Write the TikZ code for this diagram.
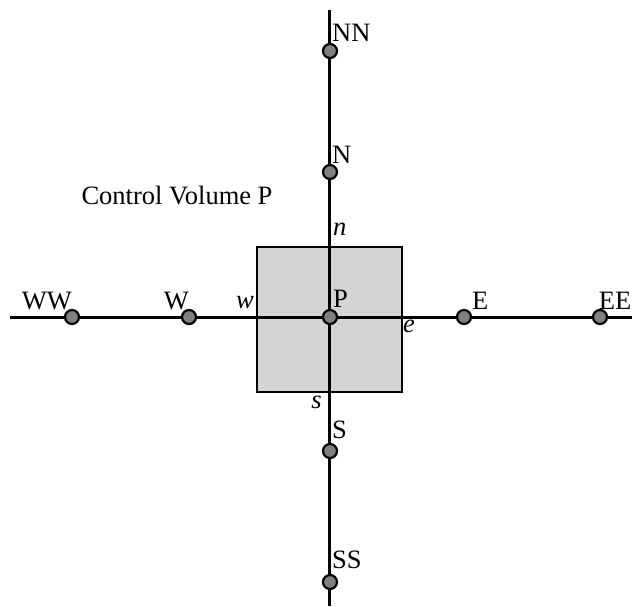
\documentclass[tikz,border=0pt]{standalone}
\usepackage{fontspec}
\setmainfont{Liberation Serif}
\usepackage{tikz}

\begin{document}
\begin{tikzpicture}[x=1pt, y=1pt,
  gridpt/.style={circle, draw, fill=black!50, line width=2.2pt, minimum size=14pt, inner sep=0pt},
  lbl/.style={font=\fontsize{26.5}{31}\selectfont, inner sep=0pt}]
  \useasboundingbox (-330,-289) rectangle (302,317);

  % control volume around P
  \draw[line width=2.8pt, fill=black!17] (-73,-75) rectangle (72,70);
  \coordinate (cvtop) at (0,70);

  % grid lines
  \coordinate (wend) at (-320,0);
  \coordinate (eend) at (302,0);
  \coordinate (nend) at (0,307);
  \coordinate (send) at (0,-289);
  \draw[line width=3pt] (wend) -- (eend);
  \draw[line width=3pt] (nend) -- (send);

  % grid points
  \node[gridpt] (ww) at (-258,0) {};
  \node[gridpt] (w) at (-141,0) {};
  \node[gridpt] (p) at (0,0) {};
  \node[gridpt] (e) at (134,0) {};
  \node[gridpt] (ee) at (270,0) {};
  \node[gridpt] (nn) at (0,266) {};
  \node[gridpt] (n) at (0,145) {};
  \node[gridpt] (s) at (0,-134) {};
  \node[gridpt] (ss) at (0,-265) {};

  \node[lbl, anchor=base east] at ([yshift=8pt]ww.center) {WW};
  \node[lbl, anchor=base east] at ([yshift=8pt]w.center) {W};
  \node[lbl, anchor=base west] at ([shift={(3pt,10pt)}]p.center) {P};
  \node[lbl, anchor=base west] at ([shift={(8pt,8pt)}]e.center) {E};
  \node[lbl, anchor=base east] at ([shift={(31.5pt,8pt)}]ee.center) {EE};
  \node[lbl, anchor=base west] at ([shift={(2pt,10pt)}]nn.center) {NN};
  \node[lbl, anchor=base west] at ([shift={(2pt,9pt)}]n.center) {N};
  \node[lbl, anchor=base west] at ([shift={(2pt,13pt)}]s.center) {S};
  \node[lbl, anchor=base west] at ([shift={(2pt,14pt)}]ss.center) {SS};

  % faces
  \node[lbl, anchor=base west] at ([shift={(3pt,12pt)}]cvtop) {\itshape n};
  \node[lbl, anchor=base east] at (-76,9) {\itshape w};
  \node[lbl, anchor=base west] at (73,-15) {\itshape e};
  \node[lbl, anchor=base east] at (-8,-91) {\itshape s};

  \node[lbl, anchor=base] at (-153,113) {Control Volume P};
\end{tikzpicture}
\end{document}
